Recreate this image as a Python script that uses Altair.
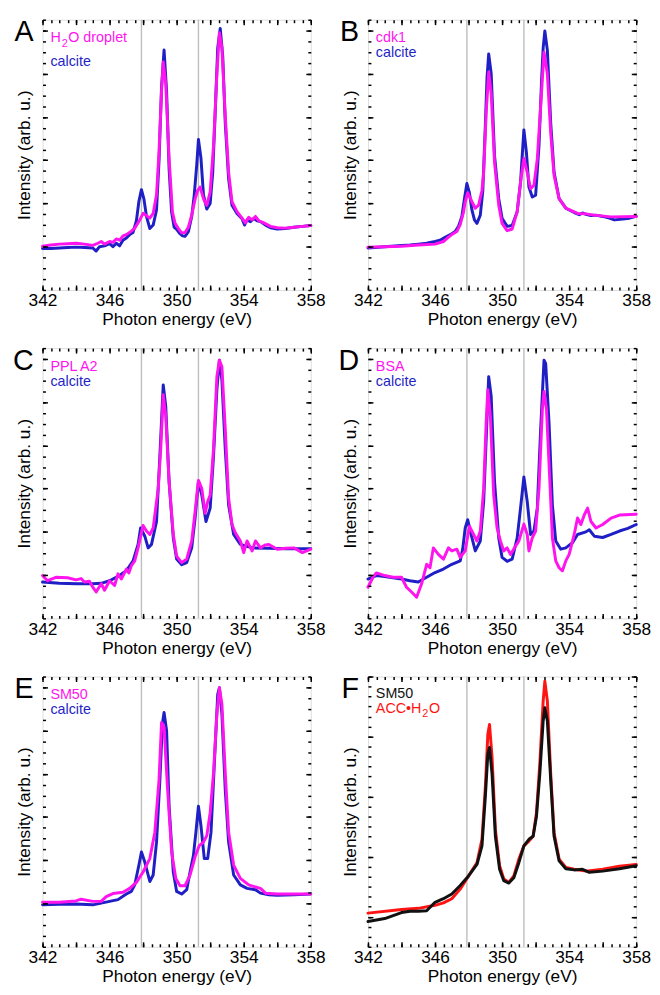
import altair as alt

FONT = "Liberation Sans"

# ---------------- data (photon energy eV, intensity arb. u.) ----------------
A_calcite = [(342.0,0.96),(342.5,0.96),(343.0,0.97),(343.5,0.98),(344.0,0.99),(344.5,0.98),(345.0,0.97),(345.2,0.90),(345.4,1.00),(345.7,1.02),(346.0,1.07),(346.2,1.00),(346.4,1.08),(346.6,1.02),(346.8,1.15),(347.0,1.20),(347.2,1.28),(347.4,1.33),(347.6,1.60),(347.75,2.05),(347.9,2.32),(348.05,2.10),(348.2,1.70),(348.4,1.42),(348.6,1.50),(348.8,1.85),(348.95,3.0),(349.1,4.7),(349.25,5.55),(349.4,4.6),(349.55,2.8),(349.7,1.8),(349.85,1.45),(350.0,1.40),(350.2,1.30),(350.35,1.25),(350.5,1.24),(350.7,1.35),(350.9,1.70),(351.05,2.20),(351.2,2.90),(351.3,3.48),(351.45,3.05),(351.6,2.20),(351.8,1.87),(352.0,2.00),(352.15,2.70),(352.3,4.10),(352.45,5.60),(352.6,6.05),(352.75,5.40),(352.9,3.86),(353.1,2.57),(353.3,1.96),(353.6,1.77),(353.9,1.65),(354.05,1.50),(354.2,1.62),(354.4,1.58),(354.6,1.65),(354.8,1.60),(355.0,1.58),(355.3,1.50),(355.6,1.44),(356.0,1.41),(356.5,1.42),(357.0,1.45),(357.5,1.47),(358.0,1.49)]
A_sample = [(342.0,1.01),(342.5,1.04),(343.0,1.06),(343.5,1.07),(344.0,1.08),(344.5,1.06),(345.0,1.03),(345.3,1.08),(345.5,1.12),(345.7,1.06),(346.0,1.12),(346.2,1.10),(346.4,1.18),(346.6,1.15),(346.8,1.25),(347.0,1.28),(347.3,1.36),(347.5,1.43),(347.8,1.62),(348.0,1.77),(348.2,1.72),(348.4,1.66),(348.6,1.77),(348.8,2.2),(348.95,3.2),(349.1,4.6),(349.2,5.27),(349.35,4.78),(349.55,3.03),(349.75,1.8),(349.9,1.55),(350.1,1.42),(350.3,1.32),(350.5,1.33),(350.7,1.45),(350.9,1.73),(351.1,2.10),(351.25,2.30),(351.4,2.38),(351.6,2.11),(351.8,1.96),(352.0,2.27),(352.2,3.33),(352.4,5.0),(352.55,5.95),(352.7,5.61),(352.9,4.02),(353.1,2.72),(353.3,2.04),(353.6,1.81),(353.9,1.66),(354.1,1.55),(354.3,1.68),(354.5,1.62),(354.7,1.70),(354.9,1.60),(355.2,1.55),(355.6,1.47),(356.0,1.44),(356.5,1.43),(357.0,1.45),(357.5,1.47),(358.0,1.49)]

B_calcite = [(342.0,0.97),(343.0,1.0),(344.0,1.03),(344.5,1.04),(345.0,1.06),(345.5,1.08),(346.0,1.12),(346.3,1.15),(346.6,1.22),(347.0,1.30),(347.2,1.35),(347.4,1.47),(347.6,1.70),(347.75,2.10),(347.9,2.46),(348.05,2.25),(348.2,1.85),(348.35,1.62),(348.5,1.54),(348.7,1.73),(348.85,2.30),(349.0,3.8),(349.1,4.9),(349.2,5.46),(349.35,5.0),(349.55,3.10),(349.8,2.11),(350.0,1.66),(350.3,1.47),(350.6,1.49),(350.9,1.81),(351.1,2.49),(351.2,3.1),(351.3,3.70),(351.45,3.18),(351.6,2.38),(351.8,2.15),(352.0,2.19),(352.2,3.33),(352.35,4.8),(352.45,5.6),(352.55,5.99),(352.7,5.54),(352.9,3.86),(353.1,2.72),(353.4,2.11),(353.8,1.89),(354.3,1.79),(354.6,1.74),(354.8,1.78),(355.0,1.75),(355.3,1.72),(355.6,1.73),(356.0,1.70),(356.4,1.66),(356.7,1.62),(357.2,1.64),(357.6,1.66),(358.0,1.70)]
B_sample = [(342.0,0.99),(343.0,1.0),(344.0,1.01),(345.0,1.04),(346.0,1.06),(346.5,1.12),(346.8,1.22),(347.0,1.28),(347.3,1.35),(347.5,1.51),(347.7,1.80),(347.8,2.04),(347.95,2.25),(348.2,2.04),(348.4,1.89),(348.6,1.96),(348.8,2.3),(348.9,2.72),(349.05,4.09),(349.2,5.04),(349.35,4.55),(349.55,2.95),(349.8,1.96),(350.0,1.54),(350.3,1.37),(350.6,1.41),(350.9,1.81),(351.1,2.49),(351.3,3.04),(351.5,2.72),(351.7,2.34),(351.9,2.42),(352.1,3.03),(352.3,4.24),(352.5,5.50),(352.7,5.0),(352.9,3.63),(353.1,2.65),(353.4,2.11),(353.8,1.89),(354.5,1.77),(355.0,1.76),(355.5,1.73),(356.5,1.69),(358.0,1.70)]

C_calcite = [(342.0,0.84),(343.0,0.81),(344.0,0.80),(345.0,0.80),(345.5,0.81),(346.0,0.87),(346.5,0.97),(347.0,1.10),(347.4,1.33),(347.7,1.71),(347.85,2.09),(348.1,1.90),(348.3,1.63),(348.5,1.71),(348.8,2.24),(349.0,3.76),(349.2,5.40),(349.35,4.90),(349.55,3.16),(349.8,1.86),(350.0,1.37),(350.3,1.24),(350.6,1.29),(350.9,1.63),(351.1,2.32),(351.3,3.16),(351.5,2.85),(351.75,2.24),(352.0,2.55),(352.2,3.76),(352.4,5.29),(352.55,5.97),(352.7,5.51),(352.9,3.92),(353.1,2.62),(353.4,1.94),(353.8,1.71),(354.5,1.63),(355.5,1.62),(356.5,1.61),(358.0,1.61)]
C_sample = [(342.0,0.99),(342.3,0.87),(342.8,0.95),(343.5,0.94),(344.0,0.89),(344.3,0.92),(344.5,0.84),(344.8,0.86),(345.0,0.72),(345.2,0.61),(345.5,0.80),(345.7,0.65),(346.0,0.87),(346.3,0.76),(346.5,1.03),(346.7,0.91),(347.0,1.14),(347.15,1.05),(347.3,1.22),(347.5,1.33),(347.7,1.63),(348.0,2.15),(348.2,2.02),(348.4,1.94),(348.6,2.09),(348.9,3.0),(349.05,3.92),(349.2,5.17),(349.35,4.68),(349.55,3.16),(349.8,1.94),(350.0,1.44),(350.3,1.29),(350.6,1.37),(350.9,1.79),(351.1,2.47),(351.3,3.19),(351.5,3.0),(351.7,2.43),(351.85,2.70),(352.0,2.85),(352.2,3.92),(352.4,5.59),(352.55,5.97),(352.7,5.82),(352.9,4.37),(353.1,2.78),(353.3,2.17),(353.5,1.98),(353.8,1.79),(354.0,1.52),(354.2,1.79),(354.5,1.56),(354.7,1.79),(355.0,1.63),(355.3,1.70),(355.5,1.71),(356.0,1.60),(356.5,1.62),(357.0,1.63),(357.5,1.52),(358.0,1.60)]

D_calcite = [(342.0,0.91),(342.5,0.99),(343.0,0.97),(343.5,0.94),(344.0,0.91),(344.5,0.87),(345.0,0.84),(345.5,0.95),(346.0,1.06),(346.5,1.14),(347.0,1.25),(347.5,1.33),(347.65,1.60),(347.8,2.09),(347.95,2.28),(348.15,1.94),(348.4,1.56),(348.7,1.79),(348.9,2.70),(349.05,4.14),(349.2,5.59),(349.35,5.13),(349.55,3.16),(349.8,1.86),(350.0,1.41),(350.3,1.32),(350.6,1.37),(350.9,1.86),(351.1,2.55),(351.3,3.27),(351.5,2.70),(351.7,1.94),(351.9,2.02),(352.1,2.55),(352.3,4.37),(352.5,5.97),(352.6,5.89),(352.8,4.52),(353.0,2.62),(353.2,1.79),(353.5,1.60),(353.8,1.63),(354.2,1.75),(354.5,1.94),(355.0,2.0),(355.2,2.05),(355.5,1.90),(356.0,1.87),(356.5,1.94),(357.0,2.02),(357.5,2.08),(358.0,2.17)]
D_sample = [(342.0,0.72),(342.3,0.95),(342.5,1.05),(343.0,0.99),(343.5,0.95),(344.0,0.95),(344.3,0.72),(344.6,0.61),(344.9,0.49),(345.2,0.80),(345.5,1.25),(345.7,1.17),(345.9,1.63),(346.2,1.48),(346.5,1.37),(346.8,1.63),(347.0,1.56),(347.3,1.60),(347.5,1.41),(347.8,1.56),(348.05,2.13),(348.3,1.94),(348.5,1.79),(348.7,2.02),(348.9,3.0),(349.05,4.52),(349.15,5.29),(349.3,4.68),(349.5,2.85),(349.7,2.09),(349.9,1.79),(350.1,1.56),(350.3,1.63),(350.5,1.48),(350.8,1.67),(351.0,1.79),(351.3,2.18),(351.5,1.94),(351.6,1.56),(351.8,1.86),(352.0,2.02),(352.2,3.0),(352.4,4.83),(352.5,5.25),(352.65,4.83),(352.85,3.16),(353.0,1.86),(353.2,1.33),(353.4,1.17),(353.6,1.10),(353.8,1.33),(354.0,1.48),(354.3,1.94),(354.5,2.32),(354.7,2.17),(354.9,2.39),(355.1,2.55),(355.3,2.24),(355.6,2.09),(356.0,2.17),(356.5,2.32),(357.0,2.39),(358.0,2.41)]

E_calcite = [(342.0,0.97),(343.0,0.98),(344.0,0.99),(345.0,0.97),(345.5,1.01),(346.0,1.05),(346.5,1.09),(347.0,1.22),(347.3,1.28),(347.5,1.43),(347.75,1.89),(347.9,2.19),(348.1,1.96),(348.4,1.51),(348.6,1.66),(348.8,2.42),(349.0,3.86),(349.15,5.16),(349.25,5.42),(349.4,5.0),(349.55,3.25),(349.8,1.73),(350.0,1.28),(350.3,1.22),(350.6,1.32),(350.8,1.73),(351.0,2.11),(351.15,2.65),(351.3,3.25),(351.45,2.80),(351.65,2.04),(351.85,2.04),(352.05,2.65),(352.25,4.24),(352.45,5.84),(352.55,5.99),(352.7,5.38),(352.9,3.63),(353.1,2.42),(353.4,1.66),(353.8,1.43),(354.2,1.35),(354.7,1.32),(355.0,1.24),(355.5,1.20),(356.0,1.19),(357.0,1.20),(358.0,1.22)]
E_sample = [(342.0,1.03),(343.0,1.03),(344.0,1.06),(344.3,1.10),(345.0,1.05),(345.5,1.05),(345.8,1.16),(346.2,1.23),(346.8,1.26),(347.2,1.35),(347.6,1.49),(348.0,1.73),(348.4,2.04),(348.7,2.65),(348.95,3.86),(349.1,5.19),(349.25,5.08),(349.45,3.71),(349.7,2.19),(349.95,1.58),(350.2,1.41),(350.5,1.41),(350.8,1.66),(351.1,2.08),(351.35,2.34),(351.6,2.42),(351.8,2.57),(352.0,3.10),(352.2,4.02),(352.4,5.38),(352.55,5.99),(352.7,5.61),(352.9,4.02),(353.1,2.65),(353.4,1.89),(353.8,1.58),(354.3,1.43),(354.8,1.37),(355.0,1.35),(355.3,1.24),(356.0,1.22),(357.0,1.22),(358.0,1.22)]

F_acc = [(342.0,0.56),(344.0,0.62),(345.0,0.64),(346.0,0.69),(346.5,0.73),(347.0,0.80),(347.5,0.96),(348.0,1.18),(348.5,1.40),(348.8,1.79),(349.0,2.66),(349.15,3.54),(349.25,3.70),(349.4,3.16),(349.6,1.95),(349.85,1.35),(350.1,1.13),(350.4,1.07),(350.7,1.18),(351.0,1.46),(351.3,1.68),(351.6,1.76),(351.85,1.84),(352.05,2.23),(352.25,3.05),(352.45,4.09),(352.55,4.42),(352.7,4.09),(352.9,2.88),(353.1,1.90),(353.4,1.46),(353.8,1.32),(354.3,1.29),(355.0,1.26),(356.0,1.29),(357.0,1.34),(358.0,1.37)]
F_sm50 = [(342.0,0.42),(343.0,0.47),(344.0,0.57),(344.5,0.59),(345.0,0.59),(345.5,0.60),(346.0,0.74),(346.5,0.80),(347.0,0.88),(347.5,1.02),(348.0,1.18),(348.5,1.37),(348.8,1.68),(349.0,2.50),(349.15,3.21),(349.25,3.32),(349.4,2.88),(349.6,1.84),(349.85,1.29),(350.1,1.10),(350.4,1.06),(350.7,1.15),(351.0,1.40),(351.3,1.68),(351.6,1.79),(351.85,1.84),(352.05,2.17),(352.25,2.88),(352.45,3.76),(352.55,3.98),(352.7,3.76),(352.9,2.77),(353.1,1.84),(353.4,1.43),(353.8,1.30),(354.3,1.28),(354.8,1.29),(355.2,1.24),(356.0,1.26),(357.0,1.30),(358.0,1.35)]

REF_LINES = [347.9, 351.3]
LETTERS = ["A", "B", "C", "D", "E", "F"]
# legend names; each name is split as (before subscript, subscript, after subscript)
NAMES = [(("H", "2", "O droplet"), ("calcite", "", "")),
         (("cdk1", "", ""), ("calcite", "", "")),
         (("PPL A2", "", ""), ("calcite", "", "")),
         (("BSA", "", ""), ("calcite", "", "")),
         (("SM50", "", ""), ("calcite", "", "")),
         (("SM50", "", ""), ("ACC\u2022H", "2", "O"))]
X_DOMAIN = [342, 358]
X_MAJOR = [342 + 2 * k for k in range(9)]
X_MINOR = [342 + 0.5 * k for k in range(33)]
Y_DOMAIN_STD = [0, 6.25]
Y_MAJOR_STD = [1, 2, 3, 4, 5, 6]
Y_MINOR_STD = [0.25 * k for k in range(26)]
Y_DOMAIN_F = [0, 4.5]
Y_MAJOR_F = [0.5, 1.5, 2.5, 3.5, 4.5]
Y_MINOR_F = [round(k / 6, 4) for k in range(28)]

BLUE = "#1f1fc6"
MAGENTA = "#ff14ee"
RED = "#ff1414"
BLACK = "#111111"
GRAY = "#bdbdbd"

LEG_SIZE = 14.5
SUB_SIZE = 11


def axis(orient, values, size, **kw):
    base = dict(orient=orient, values=values, tickSize=size, offset=-size, domain=False,
                grid=False, tickColor="black", tickWidth=1.5, labels=False, title=None,
                zindex=1, minExtent=0)
    base.update(kw)
    return alt.Axis(**base)


def text_width(s, size):
    # rough Arial advance widths (em) for placing the subscript pieces
    w = {"H": 0.722, "A": 0.667, "C": 0.722, "\u2022": 0.35, "2": 0.556}
    return sum(w.get(c, 0.556) for c in s) * size


def panel(letter, under, over, names, colors, ydom, ymaj, ymin, label_ys):
    xs = alt.Scale(domain=X_DOMAIN, nice=False, zero=False)
    ys = alt.Scale(domain=ydom, nice=False, zero=False)

    ax_bottom = axis("bottom", X_MAJOR, 5, labels=True,
                     labelExpr="datum.value % 4 == 2 ? datum.label : ''",
                     labelFlush=False, labelOverlap=False, labelPadding=2,
                     labelFontSize=17.5, labelFont=FONT, labelColor="black",
                     title="Photon energy (eV)", titleFontSize=17.5, titleFont=FONT,
                     titleFontWeight="normal", titleColor="black", titlePadding=2)
    ax_left = axis("left", ymaj, 5, title="Intensity (arb. u.)", titleFontSize=17.5,
                   titleFont=FONT, titleFontWeight="normal", titleColor="black", titlePadding=8)
    ax_top = axis("top", X_MAJOR, 5)
    ax_right = axis("right", ymaj, 5)
    ax_bottom_m = axis("bottom", X_MINOR, 3)
    ax_top_m = axis("top", X_MINOR, 3)
    ax_left_m = axis("left", ymin, 3)
    ax_right_m = axis("right", ymin, 3)

    def vline(e, xa, ya):
        return alt.Chart(alt.Data(values=[{"E": e, "lo": ydom[0], "hi": ydom[1]}])).mark_rule(
            color=GRAY, strokeWidth=1.4).encode(
            x=alt.X("E:Q", scale=xs, axis=xa),
            y=alt.Y("lo:Q", scale=ys, axis=ya),
            y2="hi:Q")

    def line(pts, color, xa, ya):
        vals = [{"E": e, "I": i} for e, i in pts]
        return alt.Chart(alt.Data(values=vals)).mark_line(
            color=color, strokeWidth=3, strokeJoin="round", strokeCap="round").encode(
            x=alt.X("E:Q", scale=xs, axis=xa),
            y=alt.Y("I:Q", scale=ys, axis=ya))

    def text(t, color, x, y, size, align="left"):
        return alt.Chart(alt.Data(values=[{}])).mark_text(
            text=t, color=color, align=align, baseline="alphabetic",
            fontSize=size, font=FONT).encode(x=alt.value(x), y=alt.value(y))

    def label(parts, color, y):
        pre, sub, post = parts
        out = [text(pre, color, 8, y, LEG_SIZE)]
        if sub:
            x1 = 8 + text_width(pre, LEG_SIZE) + 1
            out.append(text(sub, color, x1, y + 4.5, SUB_SIZE))
            out.append(text(post, color, x1 + text_width(sub, SUB_SIZE) + 0.5, y, LEG_SIZE))
        return out

    layers = [
        vline(REF_LINES[0], ax_bottom_m, ax_left_m),
        vline(REF_LINES[1], ax_top_m, ax_right_m),
        line(under, colors[1], ax_bottom, ax_left),
        line(over, colors[0], ax_top, ax_right),
    ]
    layers += label(names[0], colors[0], label_ys[0])
    layers += label(names[1], colors[1], label_ys[1])
    layers.append(text(letter, "black", -9, 22, 29, align="right"))
    return alt.layer(*layers).resolve_scale(x="shared", y="shared").resolve_axis(
        x="independent", y="independent").properties(width=272, height=274)


panels = [
    panel("A", A_calcite, A_sample, NAMES[0], (MAGENTA, BLUE), Y_DOMAIN_STD, Y_MAJOR_STD, Y_MINOR_STD, (23, 47)),
    panel("B", B_calcite, B_sample, NAMES[1], (MAGENTA, BLUE), Y_DOMAIN_STD, Y_MAJOR_STD, Y_MINOR_STD, (23, 38)),
    panel("C", C_calcite, C_sample, NAMES[2], (MAGENTA, BLUE), Y_DOMAIN_STD, Y_MAJOR_STD, Y_MINOR_STD, (23, 38)),
    panel("D", D_calcite, D_sample, NAMES[3], (MAGENTA, BLUE), Y_DOMAIN_STD, Y_MAJOR_STD, Y_MINOR_STD, (23, 38)),
    panel("E", E_calcite, E_sample, NAMES[4], (MAGENTA, BLUE), Y_DOMAIN_STD, Y_MAJOR_STD, Y_MINOR_STD, (23, 38)),
    panel("F", F_acc, F_sm50, NAMES[5], (BLACK, RED), Y_DOMAIN_F, Y_MAJOR_F, Y_MINOR_F, (22, 37)),
]

chart = alt.concat(*panels, columns=2, spacing={"row": 59, "column": 58}, bounds="flush").properties(
    padding={"left": 4, "top": 3, "right": 0, "bottom": 0}
).configure_view(stroke="black", strokeWidth=2).configure(font=FONT)

chart.save("out.html", embed_options={"renderer": "svg", "actions": False})
